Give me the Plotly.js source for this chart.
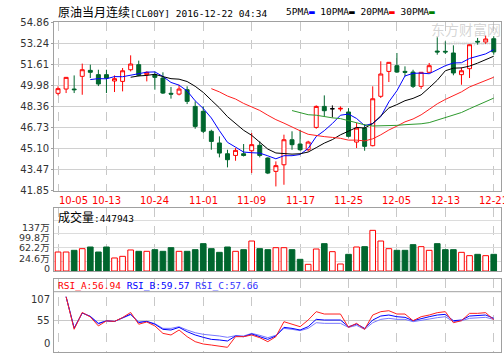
<!DOCTYPE html>
<html><head><meta charset="utf-8">
<script src="https://cdn.plot.ly/plotly-3.0.1.min.js"></script>
<style>html,body{margin:0;padding:0;background:#fff;overflow:hidden}#chart{width:504px;height:355px}</style>
</head><body><div id="chart"></div>
<script>
const dates = ['10-05','10-06','10-07','10-10','10-11','10-12','10-13','10-14','10-17','10-18','10-19','10-20','10-24','10-25','10-26','10-27','10-28','10-31','11-01','11-02','11-03','11-04','11-07','11-08','11-09','11-10','11-11','11-14','11-15','11-16','11-17','11-18','11-21','11-22','11-23','11-24','11-25','11-28','11-29','11-30','12-01','12-02','12-05','12-06','12-07','12-08','12-09','12-12','12-13','12-14','12-15','12-16','12-19','12-20','12-21'];
const openP = [49.36,49.69,49.69,50.67,51.13,50.80,50.80,50.31,50.28,51.18,51.57,50.80,50.80,50.54,49.36,49.30,49.64,48.35,47.97,46.43,45.53,44.70,44.57,44.70,44.93,45.35,44.37,43.34,43.85,45.78,45.45,45.01,46.73,48.35,48.17,48.15,47.92,45.60,46.68,45.32,49.13,51.05,51.49,51.05,51.00,49.90,50.98,52.62,52.60,52.47,50.80,51.26,53.37,53.32,53.57];
const highP = [49.90,50.62,50.74,51.65,51.57,51.18,51.18,50.74,51.31,52.29,51.88,51.05,51.05,50.98,49.85,50.02,49.90,48.74,48.35,46.55,46.04,45.01,45.14,45.45,46.30,45.65,44.42,44.11,46.17,46.43,46.55,45.70,48.43,49.20,48.43,48.35,48.22,47.07,46.99,49.90,51.83,51.77,52.47,51.44,51.18,50.98,51.70,53.68,53.37,53.06,51.36,53.16,53.63,53.81,53.76];
const lowP = [49.20,49.38,49.38,49.25,50.54,49.92,49.38,49.46,49.51,51.05,50.67,50.28,49.64,49.31,48.95,49.20,48.53,46.63,46.30,45.01,44.42,43.65,44.16,44.49,43.21,44.42,43.13,42.18,42.31,45.01,44.93,44.88,46.63,47.58,47.50,47.97,45.96,45.14,44.93,45.27,49.00,50.23,50.93,50.67,49.77,49.69,50.93,52.34,52.39,50.75,50.02,50.54,53.11,53.16,52.34];
const closeP = [49.72,50.59,49.64,51.18,50.98,50.08,50.54,50.49,51.10,51.62,50.75,50.98,50.59,49.38,49.30,49.69,48.74,46.81,46.43,45.65,44.75,44.24,44.96,44.57,45.40,44.57,43.21,43.78,45.78,45.40,45.01,45.60,48.35,48.02,48.17,48.20,46.04,46.68,45.27,48.94,50.85,51.75,51.00,50.98,49.90,50.98,51.49,52.55,52.55,50.93,51.10,53.11,53.32,53.55,52.55];
const ma5 = [null,null,null,null,50.42,50.49,50.48,50.65,50.64,50.77,50.90,50.99,51.01,50.66,50.20,49.99,49.54,48.78,48.19,47.46,46.48,45.58,45.21,44.83,44.78,44.75,44.54,44.31,44.55,44.55,44.64,45.11,46.03,46.48,47.03,47.67,47.76,47.42,46.87,47.03,47.56,48.70,49.56,50.70,50.90,50.92,50.87,51.18,51.49,51.70,51.72,52.05,52.20,52.40,52.73];
const ma10 = [null,null,null,null,null,null,null,null,null,50.60,50.70,50.74,50.83,50.65,50.49,50.45,50.27,49.90,49.43,48.83,48.24,47.56,47.00,46.51,46.12,45.62,45.06,44.76,44.69,44.67,44.70,44.83,45.17,45.52,45.79,46.16,46.44,46.73,46.68,47.03,47.62,48.23,48.49,48.79,48.97,49.24,49.79,50.37,51.10,51.30,51.32,51.46,51.69,51.95,52.22];
const ma20 = [null,null,null,null,null,null,null,null,null,null,null,null,null,null,null,null,null,null,null,49.72,49.47,49.15,48.92,48.58,48.31,48.04,47.67,47.33,47.06,46.75,46.47,46.20,46.09,46.02,45.96,45.89,45.75,45.75,45.69,45.85,46.16,46.53,46.83,47.16,47.38,47.70,48.12,48.55,48.89,49.17,49.47,49.85,50.09,50.37,50.60];
const ma30 = [null,null,null,null,null,null,null,null,null,null,null,null,null,null,null,null,null,null,null,null,null,null,null,null,null,null,null,null,null,48.03,47.88,47.71,47.67,47.56,47.47,47.41,47.26,47.13,46.93,46.84,46.85,46.87,46.89,46.94,46.96,47.01,47.10,47.29,47.49,47.67,47.88,48.17,48.45,48.75,48.99];
const volume = [510000,510000,556000,600000,645000,510000,645000,350000,394000,565000,529000,529000,573000,529000,627000,529000,529000,573000,735000,600000,502000,645000,529000,573000,806000,600000,573000,627000,627000,573000,314000,179000,591000,735000,520000,188000,448000,645000,654000,1093000,806000,600000,556000,556000,708000,654000,556000,735000,573000,573000,502000,412000,448000,412000,447943];
const rsiA = [null,98,40,70,62,46,55,54,61,70,49,53,46,32.7,29.8,38.7,26.8,17.9,13.7,11.9,10.2,7.8,26.8,26.8,29.8,25.0,17.9,26.8,53.5,49.4,44.6,56.5,71.4,67.2,67.2,67.2,43.4,50.6,39.9,65.4,71.4,73.1,67.2,67.2,55.3,62.4,65.4,69.6,71.4,51.7,55.3,68.4,68.4,69.6,56.94];
const rsiB = [null,98,42,69,63,50,55,54,60,67,52,54,49,39.9,38.7,43.4,35.7,29.8,25.6,22.0,20.9,19.1,28.0,26.8,31.6,26.8,22.0,28.0,43.4,41.6,38.7,44.6,57.7,56.5,56.5,56.5,44.6,49.4,41.6,56.5,63.6,65.4,62.4,61.3,55.3,59.5,62.4,65.4,66.6,55.3,56.5,63.6,64.2,65.4,59.57];
const rsiC = [null,98,42,69,63,51,55,54,60,66,53,54,50,41.6,41.6,44.6,38.7,33.9,31.0,29.8,28.0,25.6,28.6,28.0,32.7,29.2,25.0,29.2,41.6,39.9,37.5,41.6,51.7,50.6,50.6,50.6,43.4,47.0,39.9,51.7,57.7,59.5,57.7,57.7,53.5,56.5,58.3,60.7,62.4,53.5,55.3,59.5,60.7,61.3,57.66];
const priceTicks = ['41.85','43.47','45.10','46.73','48.36','49.98','51.61','53.24','54.86'];
const dateTickLabels = ['10-05','10-13','10-24','11-01','11-09','11-17','11-25','12-05','12-13','12-21'];
const volTickVals = [0,246000,622000,998000,1370000];
const volTickText = ['0','24.6万','62.2万','99.8万','137万'];
const rsiTickVals = [0,55,107];
const rsiTickText = ['0','55','107'];

const W = 504, H = 355;
const px = v => v / W;
const py = v => (H - v) / H;
const RED = '#ff0000', GRN = '#00662e';
const monoFont = 'DejaVu Sans Mono, Liberation Mono, monospace';
const cjkFont = 'Noto Sans CJK SC';
const axFont = {family: 'DejaVu Sans, Noto Sans CJK SC', size: 10, color: '#333333'};
const volFont = {family: 'DejaVu Sans, Noto Sans CJK SC', size: 9.5, color: '#333333'};
// pixel rows where the volume panel draws its labels (layout only)
const volLabelRows = [268, 258.5, 248, 237.5, 227];

const idxDoji = [], idxNorm = [];
dates.forEach((d, i) => (openP[i] === closeP[i] ? idxDoji : idxNorm).push(i));
const pick = (arr, idx) => idx.map(i => arr[i]);

const traces = [];
traces.push({type: 'candlestick', x: pick(dates, idxNorm), open: pick(openP, idxNorm), high: pick(highP, idxNorm),
  low: pick(lowP, idxNorm), close: pick(closeP, idxNorm), xaxis: 'x', yaxis: 'y', whiskerwidth: 0,
  increasing: {line: {color: RED, width: 1}, fillcolor: '#ffffff'},
  decreasing: {line: {color: GRN, width: 1}, fillcolor: GRN}, hoverinfo: 'skip', showlegend: false});
traces.push({type: 'candlestick', x: pick(dates, idxDoji), open: pick(openP, idxDoji), high: pick(highP, idxDoji),
  low: pick(lowP, idxDoji), close: pick(closeP, idxDoji), xaxis: 'x', yaxis: 'y', whiskerwidth: 0,
  increasing: {line: {color: '#000000', width: 1}, fillcolor: '#000000'},
  decreasing: {line: {color: '#000000', width: 1}, fillcolor: '#000000'}, hoverinfo: 'skip', showlegend: false});
[[ma5, '#0000ff'], [ma10, '#000000'], [ma20, '#ff2020'], [ma30, '#2e9a2e']].forEach(([arr, c]) => {
  traces.push({type: 'scatter', mode: 'lines', x: dates, y: arr, xaxis: 'x', yaxis: 'y',
    line: {color: c, width: 1}, hoverinfo: 'skip', showlegend: false});
});
const up = dates.map((d, i) => closeP[i] >= openP[i]);
traces.push({type: 'bar', x: dates, y: volume, xaxis: 'x2', yaxis: 'y2', width: 0.7,
  marker: {color: up.map(u => u ? '#ffffff' : GRN), line: {color: up.map(u => u ? RED : GRN), width: 1}},
  hoverinfo: 'skip', showlegend: false});
[[rsiC, '#7777ff'], [rsiB, '#0000ff'], [rsiA, '#ff2020']].forEach(([arr, c]) => {
  traces.push({type: 'scatter', mode: 'lines', x: dates, y: arr, xaxis: 'x3', yaxis: 'y3',
    line: {color: c, width: 1}, hoverinfo: 'skip', showlegend: false});
});

const xr = [-0.5, 54.9];
const xbase = {type: 'category', categoryorder: 'array', categoryarray: dates, range: xr,
  domain: [px(54), px(501)], showline: true, mirror: true, linecolor: '#a0a0a0', linewidth: 1,
  tickmode: 'array', tickvals: dateTickLabels, showticklabels: false, ticks: '',
  showgrid: true, gridcolor: '#c8c8c8', griddash: 'dash', gridwidth: 1, zeroline: false, fixedrange: true};
const layout = {
  width: W, height: H, margin: {l: 0, r: 0, t: 0, b: 0}, paper_bgcolor: '#ffffff', plot_bgcolor: '#ffffff',
  showlegend: false, font: axFont,
  xaxis: Object.assign({}, xbase, {anchor: 'y', rangeslider: {visible: false}}),
  xaxis2: Object.assign({}, xbase, {anchor: 'y2'}),
  xaxis3: Object.assign({}, xbase, {anchor: 'y3'}),
  yaxis: {domain: [py(190.7), py(22)], range: [41.85, 54.86], tickmode: 'array',
    tickvals: priceTicks.map(Number), ticktext: priceTicks, showline: true, mirror: true,
    linecolor: '#a0a0a0', showgrid: true, gridcolor: '#d0d0d0', zeroline: false, ticks: 'outside', ticklen: 2,
    tickcolor: '#a0a0a0', tickfont: axFont, fixedrange: true},
  yaxis2: {domain: [py(271), py(208)], range: [0, 63 / 0.372 * 10000], tickmode: 'array',
    tickvals: volTickVals, showticklabels: false, showline: true, mirror: true, linecolor: '#a0a0a0',
    showgrid: true, gridcolor: '#dcdcdc', zeroline: false, ticks: '', fixedrange: true},
  yaxis3: {domain: [py(352), py(279)], range: [-0.54, 129.66], tickmode: 'array',
    tickvals: [55], showticklabels: false, showline: true, mirror: true, linecolor: '#a0a0a0',
    showgrid: true, gridcolor: '#c8c8c8', zeroline: false, ticks: '', fixedrange: true},
  shapes: [
    {type: 'line', xref: 'paper', yref: 'paper', x0: px(54), x1: px(501), y0: py(291.7), y1: py(291.7),
      line: {color: '#a0a0a0', width: 1}}
  ],
  annotations: []
};
const ann = layout.annotations;
dateTickLabels.forEach((t, i) => ann.push({xref: 'x', yref: 'paper', x: t, y: py(200), text: t, showarrow: false,
  xanchor: 'center', yanchor: 'middle', xshift: i === 0 ? 15 : 0, font: {family: axFont.family, size: 10, color: '#ff0000'}}));
volTickText.forEach((t, i) => ann.push({xref: 'paper', yref: 'paper', x: px(52), y: py(volLabelRows[i]), text: t, showarrow: false,
  xanchor: 'right', yanchor: 'middle', font: volFont}));
rsiTickVals.forEach((v, i) => ann.push({xref: 'paper', yref: 'y3', x: px(52), y: v, text: rsiTickText[i], showarrow: false,
  xanchor: 'right', yanchor: 'middle', yshift: i === 0 ? 8.5 : (i === rsiTickVals.length - 1 ? -8 : 0), font: axFont}));
const cjk = s => '<span style="font-family:' + cjkFont + ';font-size:12px">' + s + '</span>';
ann.push({xref: 'paper', yref: 'paper', x: px(56), y: py(12), xanchor: 'left', yanchor: 'middle', showarrow: false,
  text: cjk('原油当月连续') + '[CL00Y] 2016-12-22 04:34', font: {family: monoFont, size: 9.5, color: '#000000'}});
ann.push({xref: 'paper', yref: 'paper', x: px(284), y: py(12), xanchor: 'left', yanchor: 'middle', showarrow: false,
  text: '5PMA<span style="color:#0000ff">▬</span> 10PMA<span style="color:#000000">▬</span> 20PMA<span style="color:#ff0000">▬</span> 30PMA<span style="color:#008000">▬</span>',
  font: {family: monoFont, size: 9.5, color: '#000000'}});
ann.push({xref: 'paper', yref: 'paper', x: px(56), y: py(216), xanchor: 'left', yanchor: 'middle', showarrow: false,
  text: cjk('成交量') + ':' + String(volume[volume.length - 1]), font: {family: monoFont, size: 9.5, color: '#000000'}});
ann.push({xref: 'paper', yref: 'paper', x: px(56), y: py(285), xanchor: 'left', yanchor: 'middle', showarrow: false,
  text: '<span style="color:#ff0000">RSI_A:' + rsiA[rsiA.length - 1].toFixed(2) + '</span> <span style="color:#0000ff">RSI_B:' +
    rsiB[rsiB.length - 1].toFixed(2) + '</span> <span style="color:#3333ff">RSI_C:' + rsiC[rsiC.length - 1].toFixed(2) + '</span>',
  font: {family: monoFont, size: 9.5, color: '#000000'}});
ann.push({xref: 'paper', yref: 'paper', x: px(466), y: py(29), xanchor: 'center', yanchor: 'middle', showarrow: false,
  text: '东方财富网', font: {family: cjkFont, size: 14, color: 'rgba(160,160,160,0.45)'}});
ann.push({xref: 'paper', yref: 'paper', x: px(466), y: py(43), xanchor: 'center', yanchor: 'middle', showarrow: false,
  text: 'eastmoney.com', font: {family: 'DejaVu Sans', size: 6, color: 'rgba(160,160,160,0.4)'}});

Plotly.newPlot('chart', traces, layout, {staticPlot: true, displayModeBar: false});
</script></body></html>
